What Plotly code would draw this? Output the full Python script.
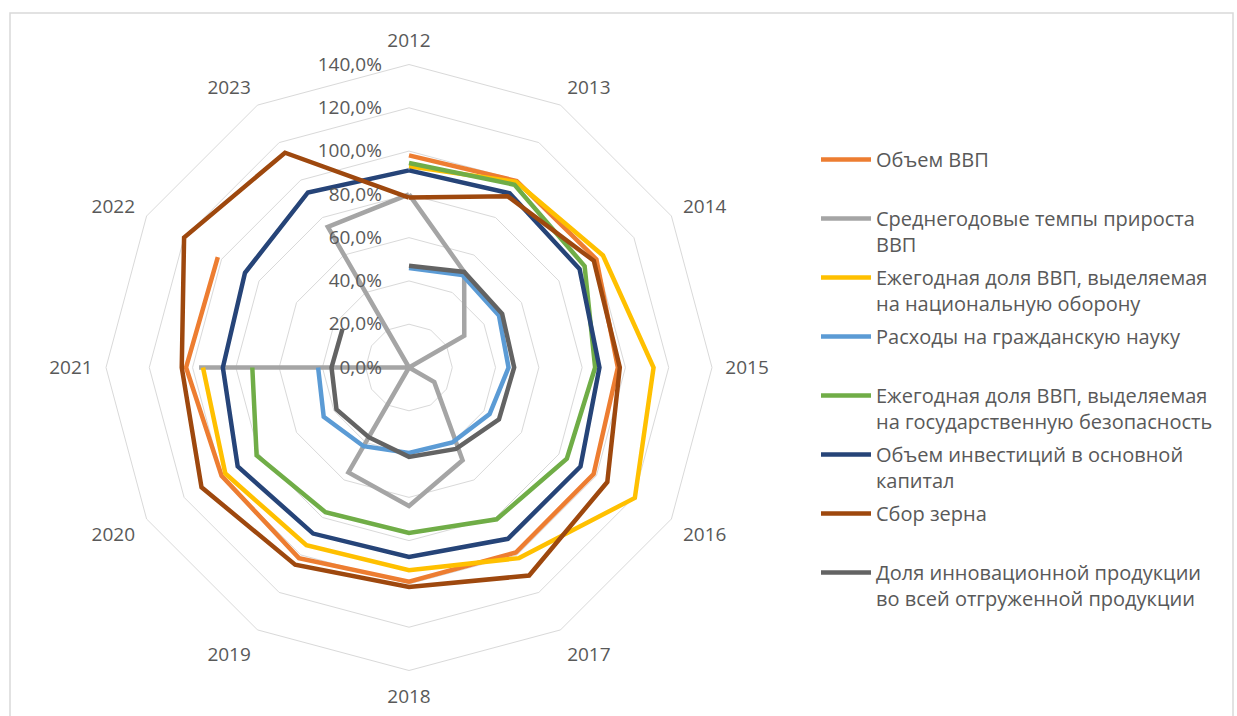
import plotly.graph_objects as go

years = ["2012", "2013", "2014", "2015", "2016", "2017", "2018", "2019", "2020", "2021", "2022", "2023"]

series_names = [
    "Объем ВВП<br> ",
    "Среднегодовые темпы прироста<br>ВВП",
    "Ежегодная доля ВВП, выделяемая<br>на национальную оборону",
    "Расходы на гражданскую науку<br> ",
    "Ежегодная доля ВВП, выделяемая<br>на государственную безопасность",
    "Объем инвестиций в основной<br>капитал",
    "Сбор зерна<br> ",
    "Доля инновационной продукции<br>во всей отгруженной продукции",
]

gdp = [98, 99.5, 100, 96.5, 98.5, 98.7, 99, 101.7, 100, 103, 102, None]
gdp_growth = [80, 51, 29.5, 0, 13.5, 49.5, 64, 56, 0, 97, 0, 75]
defense = [93, 99, 103.5, 113, 120.5, 101.7, 93.7, 94.8, 98, 95.2, None, None]
science = [46, 49.3, 48, 46, 43, 40, 39.5, 42, 45.5, 42, None, None]
security = [94.5, 97.5, 93.7, 86, 84.2, 81, 76.4, 77.2, 81.3, 72.4, None, None]
investment = [91.1, 93, 91, 88, 91.5, 91.4, 87.5, 88.6, 91.4, 86, 87.5, 93.4]
grain = [78.5, 91.3, 98.6, 97.4, 105.8, 111, 101.4, 105.2, 110.7, 105, 120, 114.6]
innovation = [47, 51, 49.7, 48.6, 48, 43.4, 41.3, 37.2, 38.7, 35.8, 35.5, None]

colors = ["#ED7D31", "#A5A5A5", "#FFC000", "#5B9BD5", "#70AD47", "#264478", "#9E480E", "#636363"]

tick_vals = [0, 20, 40, 60, 80, 100, 120, 140]
tick_text = ["0,0%", "20,0%", "40,0%", "60,0%", "80,0%", "100,0%", "120,0%", "140,0%"]

all_series = [gdp, gdp_growth, defense, science, security, investment, grain, innovation]

FONT = "Open Sans"
TXT = "#595959"

fig = go.Figure()
for i, (name, vals, col) in enumerate(zip(series_names, all_series, colors)):
    fig.add_trace(go.Scatterpolar(
        r=list(vals) + [vals[0]],
        theta=years + [years[0]],
        mode="lines",
        name=name,
        legendgroup="g%d" % i,
        line=dict(color=col, width=4.5),
        connectgaps=False,
    ))

W, H = 1237, 716
cx, cy, R = 409, 367.5, 303
fig.update_layout(
    width=W, height=H,
    margin=dict(l=0, r=0, t=0, b=0),
    paper_bgcolor="white",
    plot_bgcolor="white",
    font=dict(family=FONT, size=19, color=TXT),
    polar=dict(
        domain=dict(x=[(cx - R) / W, (cx + R) / W], y=[(H - cy - R) / H, (H - cy + R) / H]),
        gridshape="linear",
        bgcolor="white",
        radialaxis=dict(
            range=[0, 140],
            tickvals=tick_vals,
            ticktext=tick_text,
            angle=90,
            tickangle=90,
            side="counterclockwise",
            showline=False,
            ticks="outside",
            ticklen=20,
            tickcolor="rgba(0,0,0,0)",
            showgrid=True,
            gridcolor="#D9D9D9",
            gridwidth=1,
            tickfont=dict(family=FONT, size=19, color=TXT),
        ),
        angularaxis=dict(
            direction="clockwise",
            rotation=90,
            showgrid=False,
            showline=True,
            linecolor="#D9D9D9",
            linewidth=1,
            ticks="outside",
            ticklen=9,
            tickcolor="rgba(0,0,0,0)",
            tickfont=dict(family=FONT, size=19, color=TXT),
        ),
    ),
    legend=dict(
        x=816 / W, y=1 - 140 / H,
        xanchor="left", yanchor="top",
        font=dict(family=FONT, size=20, color=TXT),
        valign="top",
        tracegroupgap=4,
        itemwidth=50,
        bgcolor="rgba(0,0,0,0)",
    ),
    shapes=[dict(type="rect", xref="paper", yref="paper",
                 x0=10 / W, x1=1233 / W, y0=-0.01, y1=1 - 13 / H,
                 line=dict(color="#D9D9D9", width=1.5), fillcolor="rgba(0,0,0,0)", layer="below")],
)

fig.write_html("out.html", config={"displayModeBar": False},
               post_script="document.body.style.margin='0';")
